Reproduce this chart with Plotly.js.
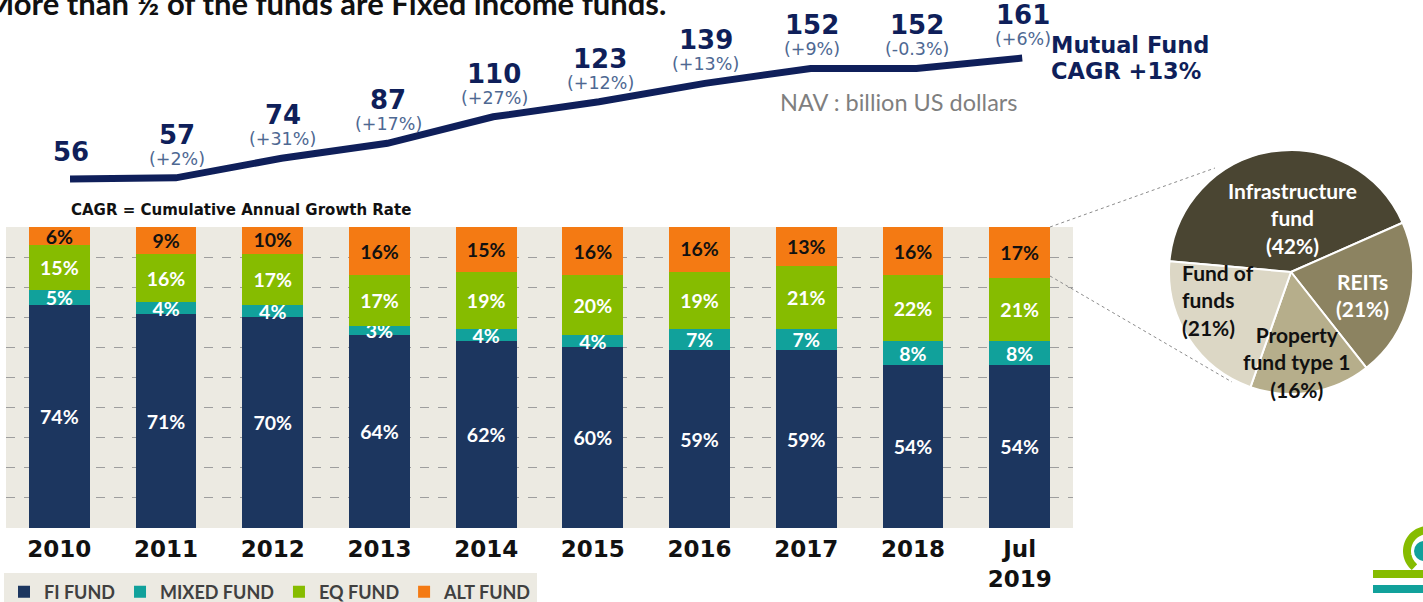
<!DOCTYPE html>
<html>
<head>
<meta charset="utf-8">
<script src="https://cdn.plot.ly/plotly-3.0.1.min.js"></script>
<style>html,body{margin:0;padding:0;background:#fff;}#chart{width:1423px;height:602px;}</style>
</head>
<body>
<div id="chart"></div>
<script>
// ---- data ----
const years = ['2010','2011','2012','2013','2014','2015','2016','2017','2018','Jul<br>2019'];
const fiFund    = [74,71,70,64,62,60,59,59,54,54];
const mixedFund = [5,4,4,3,4,4,7,7,8,8];
const eqFund    = [15,16,17,17,19,20,19,21,22,21];
const altFund   = [6,9,10,16,15,16,16,13,16,17];
const nav       = [56,57,74,87,110,123,139,152,152,161];
const navGrowth = ['','(+2%)','(+31%)','(+17%)','(+27%)','(+12%)','(+13%)','(+9%)','(-0.3%)','(+6%)'];
const pieLabels = ['Infrastructure fund','REITs','Property fund type 1','Fund of funds'];
const pieValues = [42,21,16,21];
const pieText   = ['Infrastructure<br>fund<br>(42%)','REITs<br>(21%)','Property<br>fund type 1<br>(16%)','Fund of<br>funds<br>(21%)'];

// ---- helpers (pixel -> paper) ----
const W = 1423, H = 602;
const px = x => x / W;
const py = y => 1 - y / H;

const NAVY = '#1C365F', TEAL = '#11A19B', GREEN = '#86BC00', ORANGE = '#F47A13';
const LINE = '#0F1F5A';
const BARFONT = {family: 'Lato, "Open Sans", sans-serif', size: 19.5, weight: 700};
const VERD = '"DejaVu Sans", Verdana, sans-serif';

function barTrace(name, vals, color, textColor) {
  return {
    type: 'bar', name: name, x: years, y: vals,
    marker: {color: color, line: {width: 0}},
    text: vals.map(v => v + '%'), texttemplate: '%{text}',
    textposition: 'inside', insidetextanchor: 'middle', textangle: 0,
    constraintext: 'none',
    insidetextfont: Object.assign({}, BARFONT, {color: textColor}),
    hoverinfo: 'skip', cliponaxis: true
  };
}

const traces = [
  barTrace('FI FUND', fiFund, NAVY, '#FFFFFF'),
  barTrace('MIXED FUND', mixedFund, TEAL, '#FFFFFF'),
  barTrace('EQ FUND', eqFund, GREEN, '#FFFFFF'),
  barTrace('ALT FUND', altFund, ORANGE, '#111111'),
  {
    type: 'scatter', mode: 'lines', x: years, y: nav, xaxis: 'x2', yaxis: 'y2',
    line: {color: LINE, width: 7}, showlegend: false, hoverinfo: 'skip'
  },
  {
    type: 'pie', labels: pieLabels, values: pieValues, sort: false,
    direction: 'clockwise', rotation: -85, textinfo: 'none',
    marker: {colors: ['#4A4532','#8C8361','#B6AE8B','#DCD7C5'], line: {color: '#FFFFFF', width: 2}},
    domain: {x: [px(1169), px(1413)], y: [py(394), py(150)]},
    showlegend: false, hoverinfo: 'skip'
  }
];

const annotations = [];
// line value labels (x given as category index)
nav.forEach((v, i) => {
  annotations.push({
    xref: 'x2', yref: 'y2', x: i, y: v, yshift: navGrowth[i] ? 43 : 27, xshift: 1,
    text: String(v), showarrow: false,
    font: {family: VERD, size: 26, weight: 700, color: LINE}
  });
  if (navGrowth[i]) annotations.push({
    xref: 'x2', yref: 'y2', x: i, y: v, yshift: 19, xshift: 1,
    text: navGrowth[i], showarrow: false,
    font: {family: VERD, size: 17.5, color: '#4E6892'}
  });
});
// title & notes
annotations.push(
  {xref:'paper', yref:'paper', x: px(668), y: py(3), xanchor:'right', yanchor:'middle', showarrow:false,
   text:'More than ½ of the funds are Fixed income funds.',
   font:{family:'Lato, sans-serif', size:31, weight:700, color:'#111111'}},
  {xref:'paper', yref:'paper', x: px(1049), y: py(45), xanchor:'left', yanchor:'middle', showarrow:false,
   text:'Mutual Fund', font:{family:VERD, size:22.5, weight:700, color:LINE}},
  {xref:'paper', yref:'paper', x: px(1049), y: py(71), xanchor:'left', yanchor:'middle', showarrow:false,
   text:'CAGR +13%', font:{family:VERD, size:22.5, weight:700, color:LINE}},
  {xref:'paper', yref:'paper', x: px(899), y: py(102), xanchor:'center', yanchor:'middle', showarrow:false,
   text:'NAV : billion US dollars',
   font:{family:'Lato, sans-serif', size:23.5, color:'#7F7F7F'}},
  {xref:'paper', yref:'paper', x: px(241), y: py(210), xanchor:'center', yanchor:'middle', showarrow:false,
   text:'CAGR = Cumulative Annual Growth Rate',
   font:{family:VERD, size:15, weight:700, color:'#111111'}}
);
// pie labels
const pieLabelPos = [
  {x:1292, y:218, color:'#FFFFFF', align:'center', xanchor:'center'},
  {x:1362, y:295, color:'#FFFFFF', align:'center', xanchor:'center'},
  {x:1297, y:362, color:'#111111', align:'center', xanchor:'center'},
  {x:1180, y:300, color:'#111111', align:'left', xanchor:'left'}
];
pieText.forEach((t, i) => {
  const p = pieLabelPos[i];
  annotations.push({xref:'paper', yref:'paper', x: px(p.x), y: py(p.y), xanchor: p.xanchor, yanchor:'middle',
    align: p.align, showarrow:false, text: t,
    font:{family:'Lato, sans-serif', size:21, weight:700, color:p.color}});
});

// logo arc points
function arcPath(cx, cy, r, a0, a1, n) {
  let s = '';
  for (let k = 0; k <= n; k++) {
    const a = (a0 + (a1 - a0) * k / n) * Math.PI / 180;
    const x = cx + r * Math.cos(a), y = cy - r * Math.sin(a);
    s += (k === 0 ? 'M ' : ' L ') + px(x).toFixed(5) + ',' + py(y).toFixed(5);
  }
  return s;
}

const shapes = [
  {type:'rect', xref:'paper', yref:'paper', x0: px(6), x1: px(1073), y0: py(528), y1: py(227),
   fillcolor:'#ECEAE2', line:{width:0}, layer:'below'},
  {type:'line', xref:'paper', yref:'paper', x0: px(1050), y0: py(227), x1: px(1215), y1: py(168),
   line:{color:'#8C8C8C', width:1, dash:'dot'}},
  {type:'line', xref:'paper', yref:'paper', x0: px(1050), y0: py(276), x1: px(1232), y1: py(382),
   line:{color:'#8C8C8C', width:1, dash:'dot'}},
  // logo
  {type:'path', xref:'paper', yref:'paper', path: arcPath(1428, 551, 21, 85, 230, 30),
   line:{color:GREEN, width:8}},
  {type:'circle', xref:'paper', yref:'paper', x0: px(1414), x1: px(1434), y0: py(561), y1: py(541),
   fillcolor:TEAL, line:{width:0}},
  {type:'rect', xref:'paper', yref:'paper', x0: px(1373), x1: px(1423), y0: py(578), y1: py(570),
   fillcolor:GREEN, line:{width:0}},
  {type:'rect', xref:'paper', yref:'paper', x0: px(1373), x1: px(1423), y0: py(593), y1: py(585),
   fillcolor:TEAL, line:{width:0}}
];

const layout = {
  width: W, height: H,
  margin: {l:0, r:0, t:0, b:0, pad:0, autoexpand:false},
  paper_bgcolor: '#FFFFFF', plot_bgcolor: 'rgba(0,0,0,0)',
  barmode: 'stack', bargap: 0.43,
  xaxis: {domain: [px(6), px(1073)], type:'category', showgrid:false, zeroline:false, showline:false,
          ticks:'', ticklabelstandoff: 5,
          tickfont:{family:VERD, size:23, weight:700, color:'#111111'},
          anchor:'y', fixedrange:true, automargin:false},
  yaxis: {domain: [py(528), py(227)], range:[0,100], dtick:10, showgrid:true, gridcolor:'#9E9E9E',
          griddash:'dash', gridwidth:1, showticklabels:false, zeroline:false, ticks:'', anchor:'x', automargin:false},
  xaxis2: {domain: [px(6), px(1073)], type:'category', range:[-0.605, 9.48], visible:false, anchor:'y2'},
  yaxis2: {domain: [py(197.4), py(47.7)], range:[40,170], visible:false, anchor:'x2'},
  showlegend: true,
  legend: {orientation:'h', x: px(4), xanchor:'left', y: -0.014, yanchor:'bottom',
           bgcolor:'#ECEAE2', borderwidth:0, traceorder:'normal',
           font:{family:'Lato, sans-serif', size:18, weight:700, color:'#404040'},
           itemwidth:30},
  annotations: annotations,
  shapes: shapes
};

Plotly.newPlot('chart', traces, layout, {staticPlot:true, displayModeBar:false});
</script>
</body>
</html>
